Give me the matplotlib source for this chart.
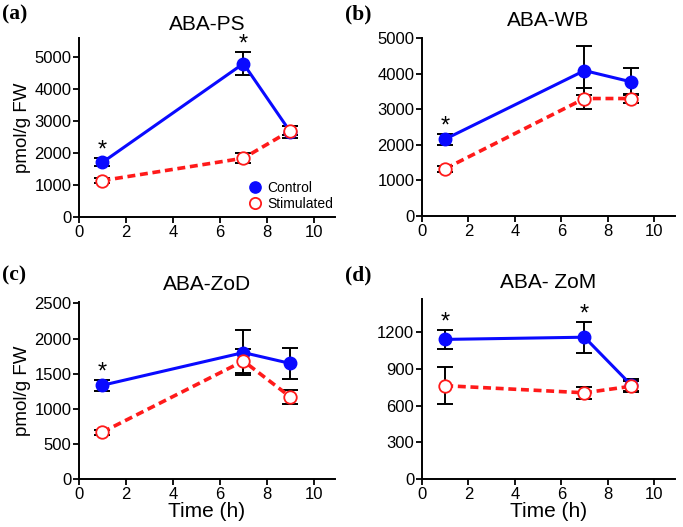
import numpy as np
import matplotlib.pyplot as plt

plt.rcParams['font.family'] = ['Liberation Sans', 'DejaVu Sans']

# time points (h)
time_h = [1, 7, 9]

# ABA-PS
ps_ctrl = [1710, 4800, 2660]
ps_ctrl_err = [130, 370, 190]
ps_stim = [1140, 1840, 2700]
ps_stim_err = [80, 155, 150]

# ABA-WB
wb_ctrl = [2160, 4085, 3770]
wb_ctrl_err = [155, 700, 380]
wb_stim = [1330, 3300, 3300]
wb_stim_err = [85, 300, 130]

# ABA-ZoD
zod_ctrl = [1335, 1800, 1645]
zod_ctrl_err = [75, 320, 215]
zod_stim = [668, 1680, 1168]
zod_stim_err = [36, 170, 95]

# ABA-ZoM
zom_ctrl = [1140, 1158, 770]
zom_ctrl_err = [75, 125, 50]
zom_stim = [762, 704, 757]
zom_stim_err = [150, 50, 45]

panels = [
    dict(tag='(a)', title='ABA-PS', ctrl=ps_ctrl, ce=ps_ctrl_err, stim=ps_stim, se=ps_stim_err,
         star=[0, 1], ylim=5600, yticks=np.arange(0, 5001, 1000)),
    dict(tag='(b)', title='ABA-WB', ctrl=wb_ctrl, ce=wb_ctrl_err, stim=wb_stim, se=wb_stim_err,
         star=[0], ylim=5000, yticks=np.arange(0, 5001, 1000)),
    dict(tag='(c)', title='ABA-ZoD', ctrl=zod_ctrl, ce=zod_ctrl_err, stim=zod_stim, se=zod_stim_err,
         star=[0], ylim=2520, yticks=np.arange(0, 2501, 500)),
    dict(tag='(d)', title='ABA- ZoM', ctrl=zom_ctrl, ce=zom_ctrl_err, stim=zom_stim, se=zom_stim_err,
         star=[0, 1], ylim=1470, yticks=np.arange(0, 1201, 300)),
]

W, H = 683, 527
boxes = [(79, 335, 38, 217), (422, 675, 38, 216), (79, 335, 302, 479), (422, 675, 299, 479)]
title_y = [25, 20, 285, 283]

fig = plt.figure(figsize=(W / 100, H / 100), dpi=100)

for i, (p, (l, r, t, b)) in enumerate(zip(panels, boxes)):
    ax = fig.add_axes([l / W, 1 - b / H, (r - l) / W, (b - t) / H])
    ax.errorbar(time_h, p['stim'], yerr=p['se'], fmt='none', ecolor='black',
                elinewidth=1.4, capsize=6, capthick=1.4, zorder=2)
    ax.errorbar(time_h, p['ctrl'], yerr=p['ce'], fmt='none', ecolor='black',
                elinewidth=1.4, capsize=6, capthick=1.4, zorder=2)
    ax.plot(time_h, p['ctrl'], '-', color='#0a0aff', lw=2.2, zorder=3)
    ax.plot(time_h, p['stim'], '--', color='#ff1a1a', lw=2.6, dashes=(2.2, 1.3), zorder=3)
    ax.plot(time_h, p['ctrl'], 'o', ms=9, mfc='#0a0aff', mec='#0a0aff', zorder=4, label='Control')
    ax.plot(time_h, p['stim'], 'o', ms=9, mfc='white', mec='#ff1a1a', mew=1.3, zorder=5, label='Stimulated')
    for k in p['star']:
        ax.annotate('*', (time_h[k], p['ctrl'][k] + p['ce'][k]), xytext=(0, 1),
                    textcoords='offset points', ha='center', va='baseline', fontsize=17)
    ax.set_xlim(0, 10.9)
    ax.set_ylim(0, p['ylim'])
    ax.set_xticks(range(0, 11, 2))
    ax.set_yticks(p['yticks'])
    for s in ['top', 'right']:
        ax.spines[s].set_visible(False)
    for s in ['left', 'bottom']:
        ax.spines[s].set_linewidth(1.4)
    ax.tick_params(width=1.3, length=4, labelsize=12, pad=1.5)
    if i % 2 == 0:
        ax.set_ylabel('pmol/g FW', fontsize=13.5, labelpad=2)
    if i >= 2:
        ax.set_xlabel('Time (h)', fontsize=15, labelpad=0)
    if i == 0:
        ax.legend(loc='lower right', frameon=False, fontsize=10, handlelength=1.0,
                  handletextpad=0.4, labelspacing=0.15, borderaxespad=0.3,
                  bbox_to_anchor=(1.03, -0.02), markerscale=0.9)
    fig.text((l + r) / 2 / W, 1 - title_y[i] / H, p['title'], fontsize=15,
             ha='center', va='center')
    fx = 2 / W if i % 2 == 0 else 345 / W
    fy = 1 - (14 if i < 2 else 275) / H
    fig.text(fx, fy, p['tag'], family='Liberation Serif', fontweight='bold',
             fontsize=15.5, va='center', ha='left')

fig.savefig('out.png', dpi=100)
